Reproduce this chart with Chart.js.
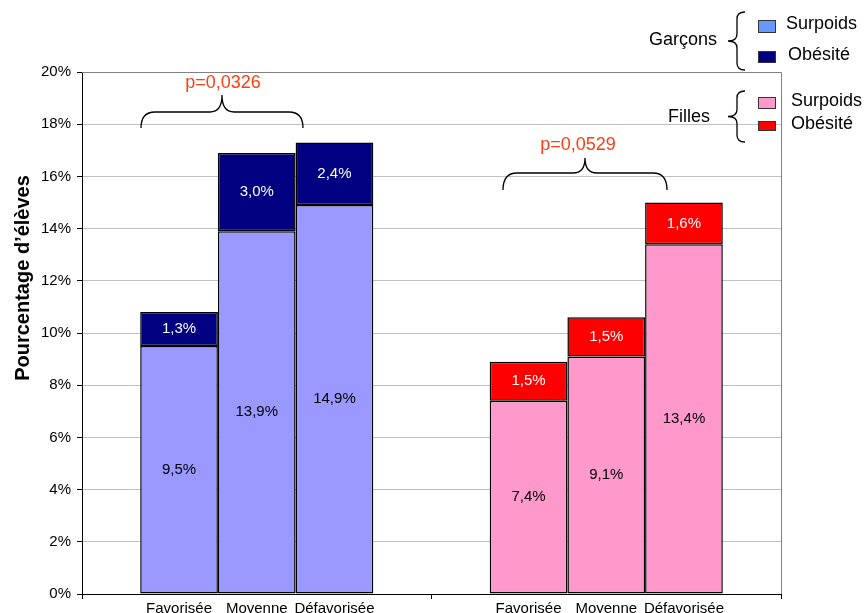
<!DOCTYPE html>
<html>
<head>
<meta charset="utf-8">
<script src="https://cdn.jsdelivr.net/npm/chart.js@4"></script>
<style>
  html, body { margin:0; padding:0; background:#fff; }
  canvas { display:block; }
</style>
</head>
<body>
<canvas id="chart" width="868" height="613"></canvas>
<script>
// ── Data ───────────────────────────────────────
const groups   = ['Garçons', 'Filles'];
const levels   = ['Favorisée', 'Moyenne', 'Défavorisée'];
const garconsSurpoids = [9.5, 13.9, 14.9];
const garconsObesite  = [1.3, 3.0, 2.4];
const fillesSurpoids  = [7.4, 9.1, 13.4];
const fillesObesite   = [1.5, 1.5, 1.6];
const pValues  = ['p=0,0326', 'p=0,0529'];
const yTicks   = [0, 2, 4, 6, 8, 10, 12, 14, 16, 18, 20];

const FONT = '"Liberation Sans", Arial, sans-serif';
const COL_SURPOIDS = ['#9999ff', '#ff99cc'];
const COL_OBESITE  = ['#000080', '#ff0000'];

// one stack per level, surpoids at the bottom, obésité on top
const datasets = [];
levels.forEach((lvl, i) => {
  datasets.push({ label: lvl + ' surpoids', kind: 'surpoids', stack: lvl,
    data: [garconsSurpoids[i], fillesSurpoids[i]], backgroundColor: COL_SURPOIDS });
  datasets.push({ label: lvl + ' obésité', kind: 'obesite', stack: lvl,
    data: [garconsObesite[i], fillesObesite[i]], backgroundColor: COL_OBESITE });
});
datasets.forEach(d => Object.assign(d, {
  borderColor: '#000', borderWidth: 1.5, borderSkipped: false,
  categoryPercentage: 0.667, barPercentage: 1.0
}));

const fmt = v => v.toFixed(1).replace('.', ',') + '%';

// ── Helpers for the drawn annotations ──────────
function hBrace(ctx, x1, x2, yEnd, yS, yTip) {
  const xc = (x1 + x2) / 2, r = 14, r2 = 12;
  ctx.beginPath();
  ctx.moveTo(x1, yEnd);
  ctx.quadraticCurveTo(x1, yS, x1 + r, yS);
  ctx.lineTo(xc - r2, yS);
  ctx.quadraticCurveTo(xc, yS, xc, yTip);
  ctx.quadraticCurveTo(xc, yS, xc + r2, yS);
  ctx.lineTo(x2 - r, yS);
  ctx.quadraticCurveTo(x2, yS, x2, yEnd);
  ctx.stroke();
}
function vBrace(ctx, xEnd, xv, xTip, yTop, yBot) {
  const yc = (yTop + yBot) / 2, r = 7, r2 = 7;
  ctx.beginPath();
  ctx.moveTo(xEnd, yTop);
  ctx.quadraticCurveTo(xv, yTop, xv, yTop + r);
  ctx.lineTo(xv, yc - r2);
  ctx.quadraticCurveTo(xv, yc, xTip, yc);
  ctx.quadraticCurveTo(xv, yc, xv, yc + r2);
  ctx.lineTo(xv, yBot - r);
  ctx.quadraticCurveTo(xv, yBot, xEnd, yBot);
  ctx.stroke();
}

// ── Plugin: frame, labels, legend, braces ──────
const decor = {
  id: 'decor',
  afterDatasetsDraw(chart) {
    const ctx = chart.ctx, a = chart.chartArea;
    ctx.save();
    // grey frame top / right
    ctx.strokeStyle = '#808080'; ctx.lineWidth = 1;
    ctx.beginPath();
    ctx.moveTo(a.left, a.top + 0.5); ctx.lineTo(a.right + 0.5, a.top + 0.5);
    ctx.lineTo(a.right + 0.5, a.bottom);
    ctx.stroke();

    // values inside segments
    ctx.font = '15px ' + FONT;
    ctx.textAlign = 'center'; ctx.textBaseline = 'middle';
    chart.data.datasets.forEach((ds, di) => {
      const meta = chart.getDatasetMeta(di);
      meta.data.forEach((el, i) => {
        ctx.fillStyle = ds.kind === 'obesite' ? '#fff' : '#000';
        ctx.fillText(fmt(ds.data[i]), el.x, (el.y + el.base) / 2);
      });
    });

    // level names under each bar
    ctx.fillStyle = '#000';
    ctx.textBaseline = 'alphabetic';
    chart.data.datasets.forEach((ds, di) => {
      if (ds.kind !== 'surpoids') return;
      chart.getDatasetMeta(di).data.forEach(el => {
        ctx.fillText(ds.stack, el.x, a.bottom + 19);
      });
    });

    // y-axis title
    ctx.save();
    ctx.translate(23, 278);
    ctx.rotate(-Math.PI / 2);
    ctx.font = 'bold 20px ' + FONT;
    ctx.textBaseline = 'middle';
    ctx.fillText('Pourcentage d\u2019élèves', 0, 0);
    ctx.restore();

    // braces with p-values
    ctx.strokeStyle = '#000'; ctx.lineWidth = 1.3;
    hBrace(ctx, 141, 303, 128, 112, 95);
    hBrace(ctx, 503, 667, 190, 173, 158);
    ctx.fillStyle = '#ff3c14';
    ctx.font = '18px ' + FONT;
    ctx.textBaseline = 'middle';
    ctx.fillText(pValues[0], 223, 83);
    ctx.fillText(pValues[1], 578, 145);

    // legend
    vBrace(ctx, 745, 737, 728, 12, 70);
    vBrace(ctx, 745, 737, 728, 91, 142);
    ctx.fillStyle = '#000';
    ctx.font = '18px ' + FONT;
    ctx.textAlign = 'right';
    ctx.fillText(groups[0], 717, 40);
    ctx.fillText(groups[1], 710, 117);
    const sw = [
      { y: 20, h: 12, c: '#6699ff', t: 'Surpoids', tx: 786, ty: 24 },
      { y: 51, h: 11, c: COL_OBESITE[0], t: 'Obésité', tx: 788, ty: 55 },
      { y: 97, h: 11, c: COL_SURPOIDS[1], t: 'Surpoids', tx: 791, ty: 101 },
      { y: 121, h: 9, c: COL_OBESITE[1], t: 'Obésité', tx: 791, ty: 124 },
    ];
    ctx.textAlign = 'left';
    ctx.lineWidth = 1;
    sw.forEach(s => {
      ctx.fillStyle = s.c;
      ctx.fillRect(758, s.y, 17, s.h);
      ctx.strokeStyle = '#333';
      ctx.strokeRect(758.5, s.y + 0.5, 17, s.h);
      ctx.fillStyle = '#000';
      ctx.fillText(s.t, s.tx, s.ty);
    });
    ctx.restore();
  }
};

new Chart(document.getElementById('chart'), {
  type: 'bar',
  data: { labels: groups, datasets },
  options: {
    responsive: false,
    animation: false,
    layout: { padding: { top: 72, right: 87, bottom: 0, left: 0 } },
    plugins: { legend: { display: false }, tooltip: { enabled: false } },
    scales: {
      x: {
        stacked: true,
        afterFit: s => { s.height = 19; },
        ticks: { display: false },
        grid: { drawOnChartArea: false, drawTicks: true, tickLength: 5, tickColor: '#000', offset: true },
        border: { color: '#000', width: 1 }
      },
      y: {
        stacked: true,
        min: 0, max: 20,
        afterFit: s => { s.width = 82; },
        afterBuildTicks: s => { s.ticks = yTicks.map(v => ({ value: v })); },
        ticks: { callback: v => v + '%', color: '#000', padding: 6, font: { family: FONT, size: 15 } },
        grid: { color: '#c0c0c0', tickColor: '#000', tickLength: 5 },
        border: { color: '#000', width: 1 }
      }
    }
  },
  plugins: [decor]
});
</script>
</body>
</html>
